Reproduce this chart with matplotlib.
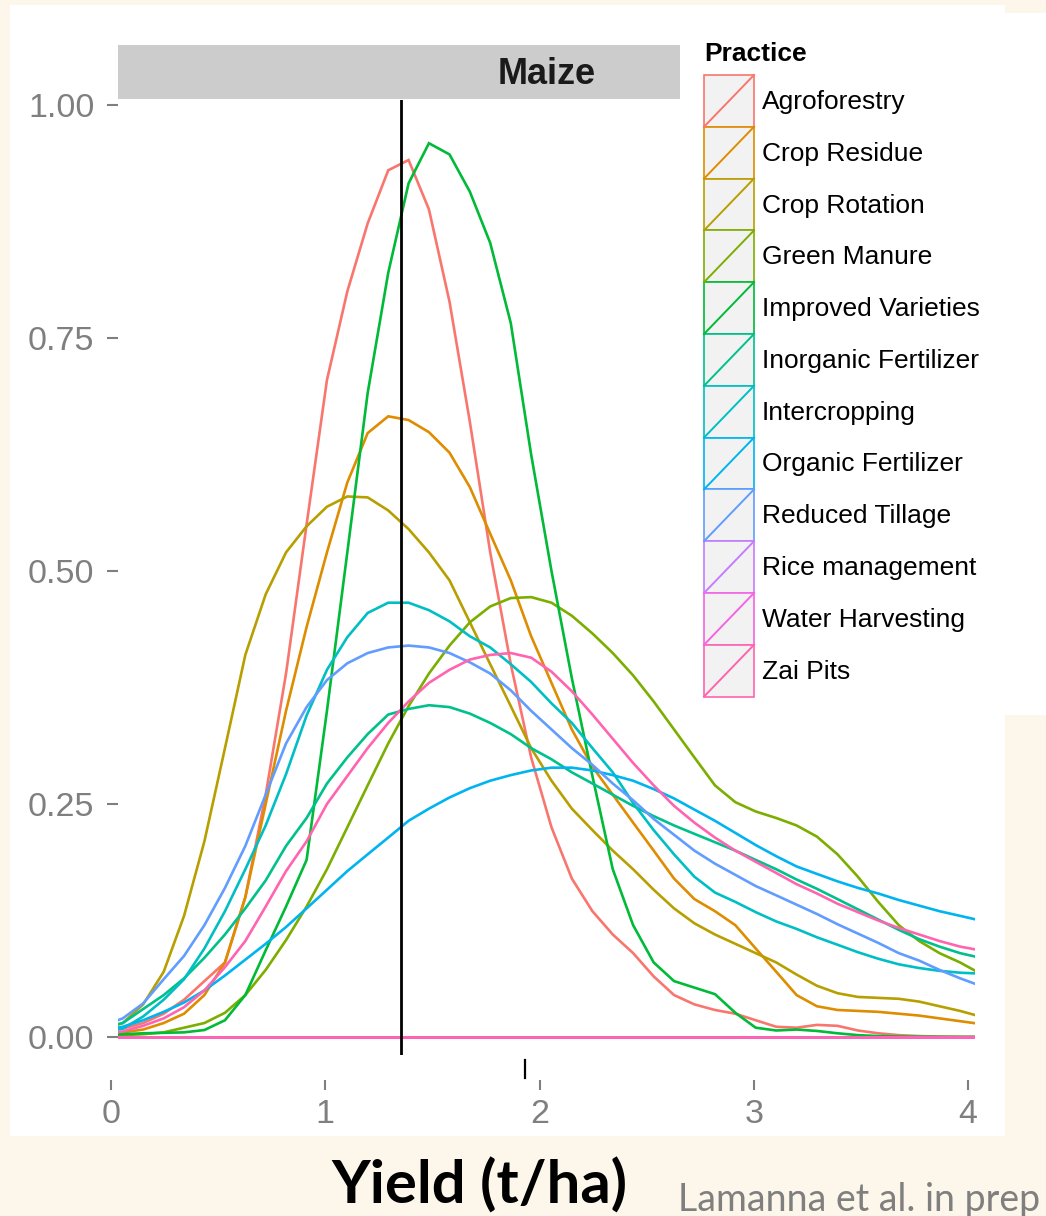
import matplotlib
matplotlib.use("Agg")
import matplotlib.pyplot as plt
from matplotlib.patches import Rectangle
from matplotlib.lines import Line2D

# ---------------- data ----------------
practices = ["Agroforestry", "Crop Residue", "Crop Rotation", "Green Manure",
             "Improved Varieties", "Inorganic Fertilizer", "Intercropping",
             "Organic Fertilizer", "Reduced Tillage", "Rice management",
             "Water Harvesting", "Zai Pits"]
colors = ["#F8766D", "#DE8C00", "#B79F00", "#7CAE00", "#00BA38", "#00C08B",
          "#00BFC4", "#00B4F0", "#619CFF", "#C77CFF", "#F564E3", "#FF64B0"]

yield_grid = [-0.040, 0.055, 0.150, 0.246, 0.341, 0.436, 0.532, 0.627, 0.722, 0.817,
              0.913, 1.008, 1.103, 1.198, 1.294, 1.389, 1.484, 1.580, 1.675, 1.770,
              1.866, 1.961, 2.056, 2.151, 2.247, 2.342, 2.437, 2.533, 2.628, 2.723,
              2.819, 2.914, 3.009, 3.105, 3.200, 3.295, 3.391, 3.486, 3.581, 3.677,
              3.772, 3.867, 3.963, 4.058]

agroforestry = [0.006, 0.009, 0.015, 0.025, 0.04, 0.06, 0.08, 0.15, 0.26, 0.39,
                0.55, 0.705, 0.80, 0.873, 0.930, 0.941, 0.888, 0.789, 0.66, 0.52,
                0.40, 0.30, 0.225, 0.17, 0.135, 0.11, 0.09, 0.065, 0.045, 0.035,
                0.029, 0.025, 0.018, 0.011, 0.010, 0.013, 0.012, 0.007, 0.004, 0.002,
                0.001, 0.0005, 0.0003, 0.0002]
crop_residue = [0.003, 0.005, 0.008, 0.015, 0.025, 0.045, 0.08, 0.15, 0.25, 0.35,
                0.44, 0.52, 0.595, 0.648, 0.666, 0.662, 0.649, 0.627, 0.59, 0.54,
                0.49, 0.43, 0.38, 0.33, 0.29, 0.26, 0.23, 0.20, 0.17, 0.148,
                0.135, 0.12, 0.095, 0.07, 0.045, 0.033, 0.029, 0.028, 0.027, 0.025,
                0.023, 0.020, 0.017, 0.014]
crop_rotation = [0.008, 0.015, 0.035, 0.07, 0.13, 0.21, 0.31, 0.41, 0.475, 0.52,
                 0.548, 0.569, 0.58, 0.579, 0.565, 0.545, 0.52, 0.49, 0.445, 0.40,
                 0.355, 0.31, 0.275, 0.245, 0.222, 0.20, 0.18, 0.158, 0.138, 0.122,
                 0.11, 0.10, 0.09, 0.08, 0.067, 0.055, 0.047, 0.043, 0.042, 0.041,
                 0.038, 0.033, 0.028, 0.022]
green_manure = [0.001, 0.002, 0.003, 0.005, 0.01, 0.015, 0.026, 0.045, 0.072, 0.104,
                0.14, 0.18, 0.225, 0.27, 0.315, 0.355, 0.39, 0.42, 0.445, 0.462,
                0.471, 0.472, 0.466, 0.452, 0.433, 0.412, 0.388, 0.36, 0.33, 0.30,
                0.27, 0.252, 0.242, 0.235, 0.227, 0.215, 0.196, 0.172, 0.145, 0.12,
                0.103, 0.09, 0.08, 0.068]
improved_varieties = [0.002, 0.003, 0.004, 0.0045, 0.005, 0.0075, 0.018, 0.045, 0.093, 0.14,
                      0.19, 0.35, 0.52, 0.691, 0.82, 0.916, 0.959, 0.947, 0.907, 0.852,
                      0.766, 0.625, 0.50, 0.385, 0.28, 0.18, 0.12, 0.08, 0.06, 0.053,
                      0.046, 0.026, 0.010, 0.007, 0.008, 0.0065, 0.004, 0.002, 0.001, 0.0005,
                      0.0003, 0.0002, 0.0001, 0.0001]
inorganic_fertilizer = [0.01, 0.015, 0.03, 0.045, 0.063, 0.085, 0.11, 0.138, 0.168, 0.205,
                        0.235, 0.272, 0.30, 0.325, 0.346, 0.352, 0.356, 0.354, 0.347, 0.337,
                        0.325, 0.31, 0.298, 0.284, 0.272, 0.26, 0.248, 0.237, 0.227, 0.218,
                        0.209, 0.20, 0.19, 0.18, 0.169, 0.159, 0.148, 0.137, 0.126, 0.115,
                        0.105, 0.097, 0.09, 0.085]
intercropping = [0.005, 0.009, 0.022, 0.04, 0.062, 0.095, 0.135, 0.18, 0.227, 0.282,
                 0.345, 0.394, 0.429, 0.455, 0.466, 0.466, 0.458, 0.446, 0.43, 0.418,
                 0.40, 0.381, 0.358, 0.337, 0.31, 0.284, 0.251, 0.222, 0.196, 0.172,
                 0.155, 0.145, 0.134, 0.124, 0.116, 0.107, 0.099, 0.091, 0.084, 0.078,
                 0.074, 0.071, 0.069, 0.068]
organic_fertilizer = [0.007, 0.011, 0.018, 0.027, 0.037, 0.05, 0.066, 0.083, 0.10, 0.118,
                      0.138, 0.158, 0.178, 0.196, 0.214, 0.232, 0.245, 0.257, 0.267, 0.275,
                      0.281, 0.286, 0.289, 0.289, 0.286, 0.281, 0.275, 0.266, 0.256, 0.244,
                      0.232, 0.219, 0.206, 0.194, 0.183, 0.175, 0.167, 0.16, 0.154, 0.147,
                      0.141, 0.135, 0.13, 0.125]
reduced_tillage = [0.012, 0.02, 0.036, 0.062, 0.087, 0.12, 0.16, 0.205, 0.26, 0.315,
                   0.354, 0.383, 0.401, 0.412, 0.418, 0.42, 0.418, 0.412, 0.402, 0.39,
                   0.372, 0.35, 0.33, 0.31, 0.292, 0.272, 0.254, 0.234, 0.217, 0.20,
                   0.186, 0.174, 0.162, 0.152, 0.142, 0.132, 0.121, 0.111, 0.101, 0.09,
                   0.082, 0.072, 0.063, 0.055]
rice_management = [0.0] * 44
water_harvesting = [0.0] * 44
zai_pits = [0.003, 0.006, 0.012, 0.02, 0.032, 0.05, 0.075, 0.103, 0.14, 0.178,
            0.21, 0.25, 0.28, 0.31, 0.337, 0.36, 0.38, 0.394, 0.405, 0.41,
            0.412, 0.407, 0.392, 0.371, 0.346, 0.32, 0.294, 0.27, 0.248, 0.23,
            0.214, 0.2, 0.188, 0.176, 0.164, 0.154, 0.143, 0.134, 0.125, 0.117,
            0.11, 0.103, 0.097, 0.093]

series = [agroforestry, crop_residue, crop_rotation, green_manure, improved_varieties,
          inorganic_fertilizer, intercropping, organic_fertilizer, reduced_tillage,
          rice_management, water_harvesting, zai_pits]

mean_yield = 1.354
y_ticks = [0.0, 0.25, 0.50, 0.75, 1.00]
y_ticklabels = ["0.00", "0.25", "0.50", "0.75", "1.00"]
x_ticks = [0, 1, 2, 3, 4]
x_ticklabels = ["0", "1", "2", "3", "4"]
facet_label = "Maize"
legend_title = "Practice"
x_title = "Yield (t/ha)"
citation = "Lamanna et al. in prep"

# ---------------- layout helpers ----------------
W, H = 1046, 1216
def fx(px):
    return px / W
def fy(py):
    return 1 - py / H

BG = "#FDF6EA"
GREY = "#7F7F7F"
FONT = "Liberation Sans"

fig = plt.figure(figsize=(W / 100, H / 100), dpi=100)
fig.patch.set_facecolor(BG)

# white slide panel
fig.add_artist(Rectangle((fx(10), fy(1136)), fx(1005) - fx(10), (1136 - 5) / H,
                         transform=fig.transFigure, facecolor="white",
                         edgecolor="none", zorder=-2))

# main panel
ax = fig.add_axes([fx(118), fy(1055), fx(975) - fx(118), (1055 - 100) / H])
ax.set_facecolor("white")
for s in ax.spines.values():
    s.set_visible(False)
ax.set_xlim(0.0327, 4.0327)
ax.set_ylim(-0.0193, 1.0054)

for i, (vals, col) in enumerate(zip(series, colors)):
    ax.plot(yield_grid, vals, color=col, lw=1.9, zorder=2 + i * 0.1,
            solid_joinstyle="miter")
    ax.plot([yield_grid[0], yield_grid[-1]], [0, 0], color=col, lw=1.9,
            zorder=2 + i * 0.1)

ax.axvline(mean_yield, color="black", lw=2.0, zorder=5)

ax.set_xticks([])
ax.set_yticks(y_ticks)
ax.set_yticklabels(y_ticklabels, fontfamily=FONT)
ax.tick_params(axis="y", length=8, width=1.5, color=GREY, labelcolor=GREY,
               labelsize=24.5, pad=9)

# separate x-axis (offset, as in the reference)
axx = fig.add_axes([fx(111), fy(1080), fx(968) - fx(111), 0.0001])
axx.patch.set_visible(False)
for s in axx.spines.values():
    s.set_visible(False)
axx.set_xlim(0, 4)
axx.set_yticks([])
axx.set_xticks(x_ticks)
axx.set_xticklabels(x_ticklabels, fontfamily=FONT)
axx.tick_params(axis="x", length=7.5, width=1.5, color=GREY, labelcolor=GREY,
                labelsize=24.5, pad=6)

# stray mark below the panel
fig.add_artist(Line2D([fx(525), fx(525)], [fy(1060), fy(1078)], color="black",
                      lw=1.6, transform=fig.transFigure))

# facet strip
fig.add_artist(Rectangle((fx(118), fy(99)), fx(975) - fx(118), (99 - 45) / H,
                         transform=fig.transFigure, facecolor="#CCCCCC",
                         edgecolor="none", zorder=1))
fig.text(fx(546.5), fy(74.5), facet_label, ha="center", va="center",
         fontsize=26, fontweight="bold", fontfamily=FONT, color="#1A1A1A",
         zorder=1.5)

# legend box (white, overlapping strip)
fig.add_artist(Rectangle((fx(680), fy(715)), fx(1046) - fx(680), (715 - 13) / H,
                         transform=fig.transFigure, facecolor="white",
                         edgecolor="none", zorder=2))
fig.text(fx(704), fy(54), legend_title, ha="left", va="center", fontsize=19,
         fontweight="bold", fontfamily=FONT, color="black", zorder=3)
key_h = 51.8
for i, (name, col) in enumerate(zip(practices, colors)):
    top = 75 + i * key_h
    fig.add_artist(Rectangle((fx(704), fy(top + key_h)), fx(754) - fx(704), key_h / H,
                             transform=fig.transFigure, facecolor="#F2F2F2",
                             edgecolor=col, lw=1.2, zorder=3))
    fig.add_artist(Line2D([fx(704), fx(754)], [fy(top + key_h), fy(top)], color=col,
                          lw=1.4, transform=fig.transFigure, zorder=3.1))
    fig.text(fx(762), fy(top + key_h / 2 + 1), name, ha="left", va="center",
             fontsize=19, fontfamily=FONT, color="black", zorder=3)

# slide texts
fig.text(fx(479), fy(1186), x_title, ha="center", va="center", fontsize=43,
         fontweight="bold", fontfamily="Lato", color="black")
fig.text(fx(678), fy(1211), citation, ha="left", va="baseline", fontsize=27,
         fontfamily="Lato", color=GREY)

fig.savefig("out.png", dpi=100, facecolor=BG)
